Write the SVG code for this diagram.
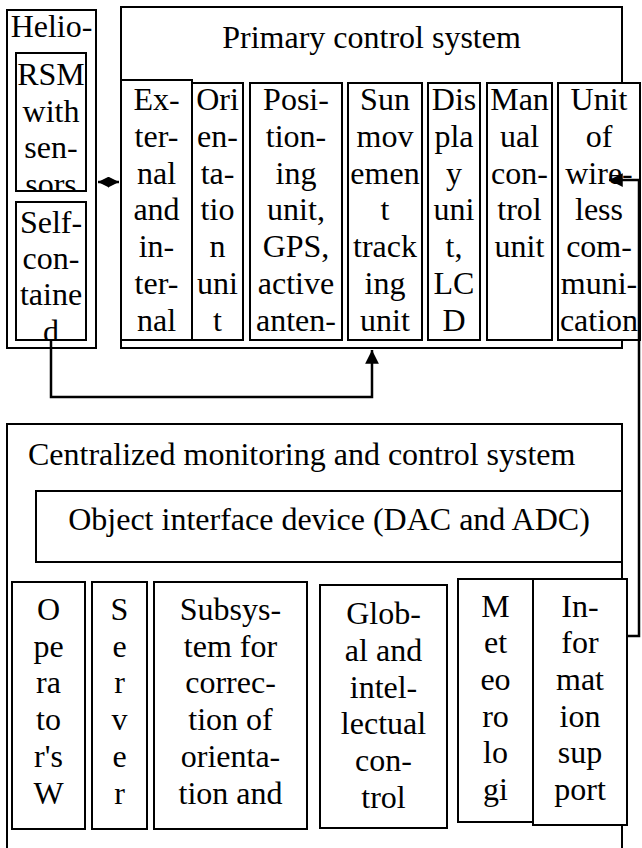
<svg xmlns="http://www.w3.org/2000/svg" width="642" height="848" viewBox="0 0 642 848">
<style>
rect{fill:#fff;stroke:#000;stroke-width:2}
text{font-family:"Liberation Serif","Times New Roman",serif;font-size:32px;fill:#000;text-anchor:middle}
.t{text-anchor:start}
.c{fill:none;stroke:#000;stroke-width:2.5}
</style>
<defs>
<marker id="ah" viewBox="0 0 10 10" refX="10" refY="5" markerWidth="5.5" markerHeight="5.5" orient="auto-start-reverse" markerUnits="strokeWidth"><path d="M0,0L10,5L0,10z" fill="#000"/></marker>
<marker id="as" viewBox="0 0 10 10" refX="10" refY="5" markerWidth="4.4" markerHeight="4.4" orient="auto-start-reverse" markerUnits="strokeWidth"><path d="M0,0L10,5L0,10z" fill="#000"/></marker>
<clipPath id="cRSM"><rect x="16" y="53" width="70" height="138"/></clipPath>
<clipPath id="cSelf"><rect x="16" y="202" width="70" height="138"/></clipPath>
</defs>
<rect x="0" y="0" width="642" height="848" style="stroke:none"/>

<g id="helio">
<rect x="7" y="10" width="89" height="338"/>
<text x="51.5" y="37">Helio-</text>
</g>
<g id="rsm">
<rect x="16" y="53" width="70" height="138"/>
<text x="51" clip-path="url(#cRSM)"><tspan x="51" y="85">RSM</tspan><tspan x="51" y="122">with</tspan><tspan x="51" y="158">sen-</tspan><tspan x="51" y="195">sors</tspan></text>
</g>
<g id="selfcontained">
<rect x="16" y="202" width="70" height="138"/>
<text x="51" clip-path="url(#cSelf)"><tspan x="51" y="233">Self-</tspan><tspan x="51" y="269">con-</tspan><tspan x="51" y="305">taine</tspan><tspan x="51" y="342">d</tspan></text>
</g>

<g id="primary">
<rect x="121" y="7" width="501" height="341"/>
<text x="371.5" y="48">Primary control system</text>
</g>
<g id="external">
<rect x="121" y="80" width="71" height="260"/>
<text><tspan x="156.5" y="110">Ex-</tspan><tspan x="156.5" y="147">ter-</tspan><tspan x="156.5" y="184">nal</tspan><tspan x="156.5" y="220">and</tspan><tspan x="156.5" y="257">in-</tspan><tspan x="156.5" y="294">ter-</tspan><tspan x="156.5" y="331">nal</tspan></text>
</g>
<g id="orientation">
<rect x="192" y="83" width="51" height="257"/>
<text><tspan x="217.5" y="110">Ori</tspan><tspan x="217.5" y="147">en-</tspan><tspan x="217.5" y="184">ta-</tspan><tspan x="217.5" y="220">tio</tspan><tspan x="217.5" y="257">n</tspan><tspan x="217.5" y="294">uni</tspan><tspan x="217.5" y="331">t</tspan></text>
</g>
<g id="positioning">
<rect x="250" y="83" width="92" height="257"/>
<text><tspan x="296" y="110">Posi-</tspan><tspan x="296" y="147">tion-</tspan><tspan x="296" y="184">ing</tspan><tspan x="296" y="220">unit,</tspan><tspan x="296" y="257">GPS,</tspan><tspan x="296" y="294">active</tspan><tspan x="296" y="331">anten-</tspan></text>
</g>
<g id="suntracking">
<rect x="348" y="83" width="74" height="257"/>
<text><tspan x="385" y="110">Sun</tspan><tspan x="385" y="147">mov</tspan><tspan x="385" y="184">emen</tspan><tspan x="385" y="220">t</tspan><tspan x="385" y="257">track</tspan><tspan x="385" y="294">ing</tspan><tspan x="385" y="331">unit</tspan></text>
</g>
<g id="display">
<rect x="428" y="83" width="52" height="257"/>
<text><tspan x="454" y="110">Dis</tspan><tspan x="454" y="147">pla</tspan><tspan x="454" y="184">y</tspan><tspan x="454" y="220">uni</tspan><tspan x="454" y="257">t,</tspan><tspan x="454" y="294">LC</tspan><tspan x="454" y="331">D</tspan></text>
</g>
<g id="manual">
<rect x="487" y="83" width="65" height="257"/>
<text><tspan x="519.5" y="110">Man</tspan><tspan x="519.5" y="147">ual</tspan><tspan x="519.5" y="184">con-</tspan><tspan x="519.5" y="220">trol</tspan><tspan x="519.5" y="257">unit</tspan></text>
</g>
<g id="wireless">
<rect x="558" y="83" width="82" height="257"/>
<text><tspan x="599" y="110">Unit</tspan><tspan x="599" y="147">of</tspan><tspan x="599" y="184">wire-</tspan><tspan x="599" y="220">less</tspan><tspan x="599" y="257">com-</tspan><tspan x="599" y="294">muni-</tspan><tspan x="599" y="331">cation</tspan></text>
</g>

<g id="centralized">
<rect x="7" y="424" width="615" height="440"/>
<text class="t" x="28" y="465">Centralized monitoring and control system</text>
</g>
<g id="objectinterface">
<rect x="36" y="491" width="586" height="71"/>
<text x="329" y="530">Object interface device (DAC and ADC)</text>
</g>
<g id="operator">
<rect x="12" y="582" width="73" height="247"/>
<text><tspan x="48.5" y="620">O</tspan><tspan x="48.5" y="657">pe</tspan><tspan x="48.5" y="693">ra</tspan><tspan x="48.5" y="730">to</tspan><tspan x="48.5" y="767">r's</tspan><tspan x="48.5" y="804">W</tspan></text>
</g>
<g id="server">
<rect x="92" y="582" width="55" height="247"/>
<text><tspan x="119.5" y="620">S</tspan><tspan x="119.5" y="657">e</tspan><tspan x="119.5" y="693">r</tspan><tspan x="119.5" y="730">v</tspan><tspan x="119.5" y="767">e</tspan><tspan x="119.5" y="804">r</tspan></text>
</g>
<g id="subsystem">
<rect x="154" y="582" width="153" height="247"/>
<text><tspan x="230.5" y="620">Subsys-</tspan><tspan x="230.5" y="657">tem for</tspan><tspan x="230.5" y="693">correc-</tspan><tspan x="230.5" y="730">tion of</tspan><tspan x="230.5" y="767">orienta-</tspan><tspan x="230.5" y="804">tion and</tspan></text>
</g>
<g id="global">
<rect x="320" y="585" width="127" height="243"/>
<text><tspan x="383.5" y="624">Glob-</tspan><tspan x="383.5" y="661">al and</tspan><tspan x="383.5" y="698">intel-</tspan><tspan x="383.5" y="734">lectual</tspan><tspan x="383.5" y="771">con-</tspan><tspan x="383.5" y="808">trol</tspan></text>
</g>
<g id="meteorology">
<rect x="458" y="579" width="75" height="243"/>
<text><tspan x="495.5" y="617">M</tspan><tspan x="495.5" y="653">et</tspan><tspan x="495.5" y="690">eo</tspan><tspan x="495.5" y="727">ro</tspan><tspan x="495.5" y="763">lo</tspan><tspan x="495.5" y="800">gi</tspan></text>
</g>
<g id="information">
<rect x="533" y="579" width="94" height="246"/>
<text><tspan x="580" y="617">In-</tspan><tspan x="580" y="653">for</tspan><tspan x="580" y="690">mat</tspan><tspan x="580" y="727">ion</tspan><tspan x="580" y="763">sup</tspan><tspan x="580" y="800">port</tspan></text>
</g>

<g id="connectors">
<path class="c" d="M98,182H119" marker-start="url(#as)" marker-end="url(#as)"/>
<path class="c" d="M51,340V397H372V350" marker-end="url(#ah)"/>
<path class="c" d="M628,636H639V180H609" marker-end="url(#ah)"/>
</g>
</svg>
